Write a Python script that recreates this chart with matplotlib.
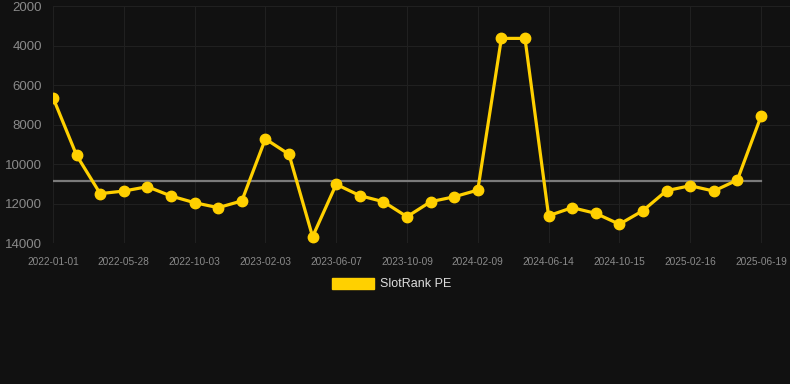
import matplotlib
matplotlib.use("Agg")
import matplotlib.pyplot as plt
import matplotlib.patches as mpatches

# ---------- Data ----------
tick_labels = ["2022-01-01", "2022-05-28", "2022-10-03", "2023-02-03", "2023-06-07",
               "2023-10-09", "2024-02-09", "2024-06-14", "2024-10-15", "2025-02-16",
               "2025-06-19"]
slotrank_pe = [6640, 9560, 11500, 11370, 11150, 11620, 11960, 12210, 11870, 8730,
               9510, 13680, 11030, 11600, 11910, 12670, 11910, 11660, 11320, 3640,
               3640, 12620, 12210, 12500, 13050, 12360, 11350, 11100, 11370, 10810,
               7590]
average_pe = 10850
y_ticks = [2000, 4000, 6000, 8000, 10000, 12000, 14000]

bg = "#111111"
gold = "#FFD000"

plt.rcParams["font.family"] = ["Liberation Sans", "DejaVu Sans"]

fig = plt.figure(figsize=(7.9, 3.84), dpi=100, facecolor=bg)
ax = fig.add_axes([53 / 790, 1 - 243 / 384, 1 - 53 / 790, (243 - 6) / 384])
ax.set_facecolor(bg)

x = list(range(len(slotrank_pe)))

# average line
ax.plot([x[0], x[-1]], [average_pe, average_pe], color="#7a7a7a", lw=1.6, zorder=2)

# main series
ax.plot(x, slotrank_pe, color=gold, lw=2.3, marker="o", markersize=7.5,
        markerfacecolor=gold, markeredgecolor=gold, zorder=3)

ax.set_ylim(14000, 2000)
ax.set_xlim(0, 31.23)
ax.set_yticks(y_ticks)
ax.set_yticklabels([str(v) for v in y_ticks])
ax.set_xticks(x[::3])
ax.set_xticklabels(tick_labels)

ax.grid(True, color="#202020", lw=0.8)
ax.set_axisbelow(True)
for s in ax.spines.values():
    s.set_visible(False)
ax.tick_params(axis="y", length=0, pad=8, labelsize=9.5, labelcolor="#8a8a8a")
ax.tick_params(axis="x", length=0, pad=10, labelsize=7.3, labelcolor="#8a8a8a")

# legend below the chart
handle = mpatches.Patch(color=gold, label="SlotRank PE")
leg = fig.legend(handles=[handle], loc="center", bbox_to_anchor=(0.496, 1 - 284 / 384),
                 frameon=False, fontsize=9, handlelength=3.3, handleheight=1.0,
                 handletextpad=0.5)
for t in leg.get_texts():
    t.set_color("#dddddd")

fig.savefig("out.png", dpi=100, facecolor=bg)
